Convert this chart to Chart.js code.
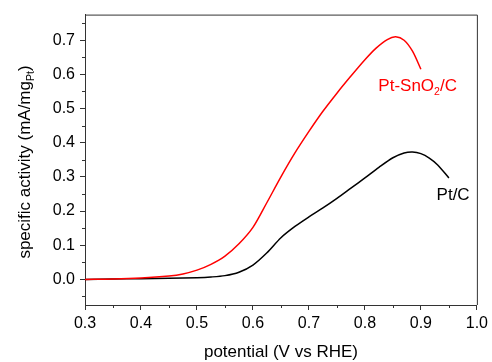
<!DOCTYPE html>
<html>
<head>
<meta charset="utf-8">
<script src="https://cdn.jsdelivr.net/npm/chart.js@4"></script>
<style>
  body { margin: 0; background: #fff; }
  canvas { display: block; }
</style>
</head>
<body>
<canvas id="activityChart" width="492" height="362"></canvas>
<script>
// potential (V vs RHE) and specific activity values
const snPotential = [0.30, 0.35, 0.40, 0.45, 0.475, 0.50, 0.525, 0.55, 0.575, 0.60, 0.625, 0.65, 0.675, 0.70, 0.725, 0.75, 0.775, 0.80, 0.82, 0.84, 0.855, 0.87, 0.885, 0.90];
const snActivity = [0, 0.001, 0.004, 0.010, 0.016, 0.027, 0.044, 0.068, 0.104, 0.152, 0.225, 0.300, 0.370, 0.433, 0.492, 0.545, 0.595, 0.643, 0.677, 0.702, 0.710, 0.700, 0.668, 0.615];

const ptPotential = [0.30, 0.35, 0.40, 0.45, 0.50, 0.525, 0.55, 0.575, 0.60, 0.625, 0.65, 0.675, 0.70, 0.725, 0.75, 0.775, 0.80, 0.825, 0.85, 0.87, 0.885, 0.90, 0.915, 0.93, 0.95];
const ptActivity = [0, 0.001, 0.002, 0.003, 0.005, 0.007, 0.011, 0.021, 0.042, 0.078, 0.122, 0.155, 0.183, 0.209, 0.237, 0.267, 0.297, 0.328, 0.356, 0.370, 0.373, 0.368, 0.355, 0.335, 0.297];

const xTicks = [0.3, 0.4, 0.5, 0.6, 0.7, 0.8, 0.9, 1.0];
const yTicks = [0.0, 0.1, 0.2, 0.3, 0.4, 0.5, 0.6, 0.7];
const xMinor = [0.35, 0.45, 0.55, 0.65, 0.75, 0.85, 0.95];
const yMinor = [-0.05, 0.05, 0.15, 0.25, 0.35, 0.45, 0.55, 0.65, 0.75];

const FONT = "Arial, 'Liberation Sans', sans-serif";
const AXIS = "#333";

function toPoints(xs, ys) {
  return xs.map((x, i) => ({ x: x, y: ys[i] }));
}

// draw text pieces, some as subscript
function drawPieces(c, pieces, x, y, size) {
  let cx = x;
  pieces.forEach(p => {
    const s = p.sub ? size * 0.62 : size;
    c.font = s + "px " + FONT;
    c.fillText(p.t, cx, p.sub ? y + size * 0.25 : y);
    cx += c.measureText(p.t).width;
  });
  return cx - x;
}
function piecesWidth(c, pieces, size) {
  let w = 0;
  pieces.forEach(p => {
    c.font = (p.sub ? size * 0.62 : size) + "px " + FONT;
    w += c.measureText(p.t).width;
  });
  return w;
}

const extras = {
  id: "extras",
  afterDraw(chart) {
    const c = chart.ctx;
    const a = chart.chartArea;
    const xs = chart.scales.x;
    const ys = chart.scales.y;
    c.save();
    // frame top and right
    c.strokeStyle = AXIS;
    c.lineWidth = 1;
    c.beginPath();
    c.moveTo(a.left, a.top + 0.5);
    c.lineTo(a.right + 0.5, a.top + 0.5);
    c.lineTo(a.right + 0.5, a.bottom);
    c.stroke();
    // minor ticks
    c.beginPath();
    xMinor.forEach(v => {
      const px = Math.round(xs.getPixelForValue(v)) + 0.5;
      c.moveTo(px, a.bottom);
      c.lineTo(px, a.bottom + 3);
    });
    yMinor.forEach(v => {
      const py = Math.round(ys.getPixelForValue(v)) + 0.5;
      c.moveTo(a.left, py);
      c.lineTo(a.left - 3, py);
    });
    c.stroke();

    // axis titles
    c.fillStyle = "#000";
    c.textBaseline = "alphabetic";
    c.textAlign = "left";
    c.font = "17px " + FONT;
    const xt = "potential (V vs RHE)";
    const xw = c.measureText(xt).width;
    c.fillText(xt, (a.left + a.right) / 2 - xw / 2, 357);

    const yt = [{ t: "specific activity (mA/mg" }, { t: "Pt", sub: true }, { t: ")" }];
    const yw = piecesWidth(c, yt, 17);
    c.translate(30, 162);
    c.rotate(-Math.PI / 2);
    drawPieces(c, yt, -yw / 2, 0, 17);
    c.setTransform(1, 0, 0, 1, 0, 0);

    // series labels
    c.fillStyle = "#ff0000";
    drawPieces(c, [{ t: "Pt-SnO" }, { t: "2", sub: true }, { t: "/C" }],
      xs.getPixelForValue(0.824), ys.getPixelForValue(0.551), 17);
    c.fillStyle = "#000";
    drawPieces(c, [{ t: "Pt/C" }],
      xs.getPixelForValue(0.928), ys.getPixelForValue(0.233), 17);
    c.restore();
  }
};

const ctx = document.getElementById("activityChart").getContext("2d");
const activityChart = new Chart(ctx, {
  type: "line",
  data: {
    datasets: [
      {
        label: "Pt-SnO2/C",
        data: toPoints(snPotential, snActivity),
        borderColor: "#ff0000",
        borderWidth: 1.5,
        pointRadius: 0,
        tension: 0.3,
        fill: false,
      },
      {
        label: "Pt/C",
        data: toPoints(ptPotential, ptActivity),
        borderColor: "#000000",
        borderWidth: 1.5,
        pointRadius: 0,
        tension: 0.3,
        fill: false,
      },
    ],
  },
  options: {
    responsive: false,
    animation: false,
    layout: {
      padding: { top: 13, right: 11, left: 0, bottom: 0 },
    },
    plugins: {
      legend: { display: false },
      tooltip: { enabled: false },
    },
    scales: {
      x: {
        type: "linear",
        min: 0.3,
        max: 1.0,
        afterBuildTicks: s => { s.ticks = xTicks.map(v => ({ value: v })); },
        afterFit: s => { s.height = 57; },
        ticks: {
          callback: v => v.toFixed(1),
          color: "#000",
          font: { family: FONT, size: 16 },
          padding: 4,
          maxRotation: 0,
          autoSkip: false,
        },
        grid: { drawOnChartArea: false, tickLength: 5, tickColor: AXIS },
        border: { color: AXIS, width: 1 },
      },
      y: {
        type: "linear",
        min: -0.075,
        max: 0.775,
        afterBuildTicks: s => { s.ticks = yTicks.map(v => ({ value: v })); },
        afterFit: s => { s.width = 85; },
        ticks: {
          callback: v => v.toFixed(1),
          color: "#000",
          font: { family: FONT, size: 16 },
          padding: 5,
          autoSkip: false,
        },
        grid: { drawOnChartArea: false, tickLength: 5, tickColor: AXIS },
        border: { color: AXIS, width: 1 },
      },
    },
  },
  plugins: [extras],
});
</script>
</body>
</html>
